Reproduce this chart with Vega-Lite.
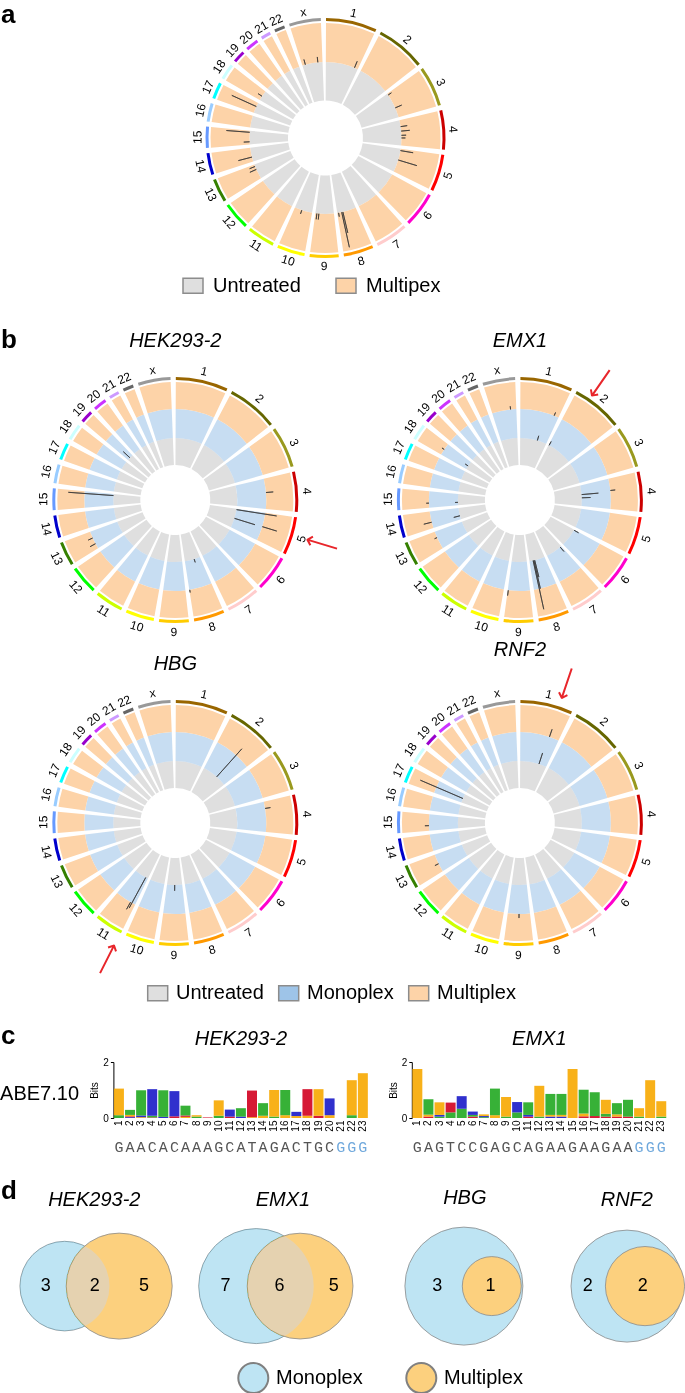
{
"$schema":"https://vega.github.io/schema/vega-lite/v6.json",
"padding":{"left":0,"top":2,"right":0,"bottom":0},
"background":"white",
"config":{
 "font":"Liberation Sans",
 "view":{"stroke":null},
 "title":{"fontSize":20,"fontStyle":"italic","fontWeight":"normal","frame":"group","baseline":"alphabetic","color":"#000000"},
 "axis":{"labelColor":"#000","titleColor":"#000","domainColor":"#000","tickColor":"#000","grid":false},
 "legend":{"labelFontSize":20,"labelColor":"#000","padding":0}
},
"datasets":{
 "chroms":[
  {"chr":"1","start":12.5,"end":261.5,"mid":137},
  {"chr":"2","start":286.5,"end":529.5,"mid":408},
  {"chr":"3","start":554.5,"end":752.5,"mid":653.5},
  {"chr":"4","start":777.5,"end":968.5,"mid":873},
  {"chr":"5","start":993.5,"end":1174.5,"mid":1084},
  {"chr":"6","start":1199.5,"end":1370.5,"mid":1285},
  {"chr":"7","start":1395.5,"end":1554.5,"mid":1475},
  {"chr":"8","start":1579.5,"end":1725.5,"mid":1652.5},
  {"chr":"9","start":1750.5,"end":1891.5,"mid":1821},
  {"chr":"10","start":1916.5,"end":2052.5,"mid":1984.5},
  {"chr":"11","start":2077.5,"end":2212.5,"mid":2145},
  {"chr":"12","start":2237.5,"end":2371.5,"mid":2304.5},
  {"chr":"13","start":2396.5,"end":2511.5,"mid":2454},
  {"chr":"14","start":2536.5,"end":2643.5,"mid":2590},
  {"chr":"15","start":2668.5,"end":2771.5,"mid":2720},
  {"chr":"16","start":2796.5,"end":2886.5,"mid":2841.5},
  {"chr":"17","start":2911.5,"end":2992.5,"mid":2952},
  {"chr":"18","start":3017.5,"end":3095.5,"mid":3056.5},
  {"chr":"19","start":3120.5,"end":3179.5,"mid":3150},
  {"chr":"20","start":3204.5,"end":3267.5,"mid":3236},
  {"chr":"21","start":3292.5,"end":3340.5,"mid":3316.5},
  {"chr":"22","start":3365.5,"end":3416.5,"mid":3391},
  {"chr":"x","start":3441.5,"end":3596.5,"mid":3519}
 ],
 "hits":[
  {"plot":"a","track":"Multiplex","gpos":3465,"v":0.14},
  {"plot":"a","track":"Multiplex","gpos":3561,"v":0.14},
  {"plot":"a","track":"Multiplex","gpos":235,"v":0.18},
  {"plot":"a","track":"Multiplex","gpos":567,"v":0.1},
  {"plot":"a","track":"Multiplex","gpos":678,"v":0.18},
  {"plot":"a","track":"Multiplex","gpos":826,"v":0.17},
  {"plot":"a","track":"Multiplex","gpos":860,"v":0.22},
  {"plot":"a","track":"Multiplex","gpos":892,"v":0.12},
  {"plot":"a","track":"Multiplex","gpos":912,"v":0.1},
  {"plot":"a","track":"Multiplex","gpos":1008,"v":0.33},
  {"plot":"a","track":"Multiplex","gpos":1081,"v":0.5},
  {"plot":"a","track":"Multiplex","gpos":1691,"v":0.92},
  {"plot":"a","track":"Multiplex","gpos":1682,"v":0.55},
  {"plot":"a","track":"Multiplex","gpos":1715,"v":0.1},
  {"plot":"a","track":"Multiplex","gpos":1997,"v":0.1},
  {"plot":"a","track":"Multiplex","gpos":1880,"v":0.15},
  {"plot":"a","track":"Multiplex","gpos":1865,"v":0.15},
  {"plot":"a","track":"Multiplex","gpos":2472,"v":0.18},
  {"plot":"a","track":"Multiplex","gpos":2496,"v":0.15},
  {"plot":"a","track":"Multiplex","gpos":2571,"v":0.36},
  {"plot":"a","track":"Multiplex","gpos":2760,"v":0.6},
  {"plot":"a","track":"Multiplex","gpos":2688,"v":0.15},
  {"plot":"a","track":"Multiplex","gpos":2962,"v":0.69},
  {"plot":"a","track":"Multiplex","gpos":3051,"v":0.12},
  {"plot":"HEK293-2","track":"Monoplex","gpos":2758,"v":1.56},
  {"plot":"HEK293-2","track":"Monoplex","gpos":3147,"v":0.31},
  {"plot":"HEK293-2","track":"Monoplex","gpos":1002,"v":1.4},
  {"plot":"HEK293-2","track":"Monoplex","gpos":1085,"v":0.74},
  {"plot":"HEK293-2","track":"Monoplex","gpos":1637,"v":0.12},
  {"plot":"HEK293-2","track":"Multiplex","gpos":1083,"v":0.56},
  {"plot":"HEK293-2","track":"Multiplex","gpos":865,"v":0.27},
  {"plot":"HEK293-2","track":"Multiplex","gpos":1723,"v":0.1},
  {"plot":"HEK293-2","track":"Multiplex","gpos":2469,"v":0.18},
  {"plot":"HEK293-2","track":"Multiplex","gpos":2429,"v":0.23},
  {"plot":"EMX1","track":"Monoplex","gpos":1691,"v":1.72},
  {"plot":"EMX1","track":"Monoplex","gpos":1684,"v":1.0},
  {"plot":"EMX1","track":"Monoplex","gpos":1676,"v":0.6},
  {"plot":"EMX1","track":"Monoplex","gpos":862,"v":0.58},
  {"plot":"EMX1","track":"Monoplex","gpos":892,"v":0.3},
  {"plot":"EMX1","track":"Monoplex","gpos":174,"v":0.17},
  {"plot":"EMX1","track":"Monoplex","gpos":292,"v":0.15},
  {"plot":"EMX1","track":"Monoplex","gpos":3051,"v":0.12},
  {"plot":"EMX1","track":"Monoplex","gpos":2695,"v":0.1},
  {"plot":"EMX1","track":"Monoplex","gpos":2569,"v":0.22},
  {"plot":"EMX1","track":"Monoplex","gpos":1205,"v":0.18},
  {"plot":"EMX1","track":"Monoplex","gpos":1408,"v":0.2},
  {"plot":"EMX1","track":"Multiplex","gpos":1888,"v":0.2},
  {"plot":"EMX1","track":"Multiplex","gpos":852,"v":0.18},
  {"plot":"EMX1","track":"Multiplex","gpos":232,"v":0.13},
  {"plot":"EMX1","track":"Multiplex","gpos":3560,"v":0.12},
  {"plot":"EMX1","track":"Multiplex","gpos":3055,"v":0.1},
  {"plot":"EMX1","track":"Multiplex","gpos":2697,"v":0.1},
  {"plot":"EMX1","track":"Multiplex","gpos":2575,"v":0.3},
  {"plot":"EMX1","track":"Multiplex","gpos":2472,"v":0.1},
  {"plot":"HBG","track":"Monoplex","gpos":430,"v":1.3},
  {"plot":"HBG","track":"Monoplex","gpos":2100,"v":1.2},
  {"plot":"HBG","track":"Monoplex","gpos":1820,"v":0.2},
  {"plot":"HBG","track":"Multiplex","gpos":820,"v":0.2},
  {"plot":"HBG","track":"Multiplex","gpos":2110,"v":0.3},
  {"plot":"RNF2","track":"Monoplex","gpos":2950,"v":1.6},
  {"plot":"RNF2","track":"Monoplex","gpos":190,"v":0.4},
  {"plot":"RNF2","track":"Multiplex","gpos":200,"v":0.3},
  {"plot":"RNF2","track":"Multiplex","gpos":2700,"v":0.15},
  {"plot":"RNF2","track":"Multiplex","gpos":2450,"v":0.15},
  {"plot":"RNF2","track":"Multiplex","gpos":1820,"v":0.15}
 ],
 "arrows":[
  {"plot":"HEK293-2","chr":"5","gpos":1082},
  {"plot":"EMX1","chr":"2","gpos":359},
  {"plot":"HBG","chr":"11","gpos":2083},
  {"plot":"RNF2","chr":"1","gpos":198}
 ],
 "logo":[
  {"target":"HEK293-2","pos":1,"base":"A","bits":0.1},{"target":"HEK293-2","pos":1,"base":"G","bits":0.95},
  {"target":"HEK293-2","pos":2,"base":"C","bits":0.03},{"target":"HEK293-2","pos":2,"base":"T","bits":0.03},{"target":"HEK293-2","pos":2,"base":"G","bits":0.05},{"target":"HEK293-2","pos":2,"base":"A","bits":0.18},
  {"target":"HEK293-2","pos":3,"base":"G","bits":0.03},{"target":"HEK293-2","pos":3,"base":"C","bits":0.06},{"target":"HEK293-2","pos":3,"base":"A","bits":0.9},
  {"target":"HEK293-2","pos":4,"base":"T","bits":0.02},{"target":"HEK293-2","pos":4,"base":"A","bits":0.06},{"target":"HEK293-2","pos":4,"base":"C","bits":0.95},
  {"target":"HEK293-2","pos":5,"base":"C","bits":0.04},{"target":"HEK293-2","pos":5,"base":"A","bits":0.95},
  {"target":"HEK293-2","pos":6,"base":"T","bits":0.06},{"target":"HEK293-2","pos":6,"base":"C","bits":0.9},
  {"target":"HEK293-2","pos":7,"base":"G","bits":0.04},{"target":"HEK293-2","pos":7,"base":"T","bits":0.05},{"target":"HEK293-2","pos":7,"base":"A","bits":0.35},
  {"target":"HEK293-2","pos":8,"base":"A","bits":0.05},{"target":"HEK293-2","pos":8,"base":"G","bits":0.05},
  {"target":"HEK293-2","pos":9,"base":"T","bits":0.02},
  {"target":"HEK293-2","pos":10,"base":"A","bits":0.08},{"target":"HEK293-2","pos":10,"base":"G","bits":0.55},
  {"target":"HEK293-2","pos":11,"base":"T","bits":0.05},{"target":"HEK293-2","pos":11,"base":"C","bits":0.25},
  {"target":"HEK293-2","pos":12,"base":"C","bits":0.05},{"target":"HEK293-2","pos":12,"base":"A","bits":0.3},
  {"target":"HEK293-2","pos":13,"base":"G","bits":0.03},{"target":"HEK293-2","pos":13,"base":"T","bits":0.95},
  {"target":"HEK293-2","pos":14,"base":"G","bits":0.08},{"target":"HEK293-2","pos":14,"base":"A","bits":0.45},
  {"target":"HEK293-2","pos":15,"base":"A","bits":0.05},{"target":"HEK293-2","pos":15,"base":"G","bits":0.95},
  {"target":"HEK293-2","pos":16,"base":"G","bits":0.1},{"target":"HEK293-2","pos":16,"base":"A","bits":0.9},
  {"target":"HEK293-2","pos":17,"base":"G","bits":0.07},{"target":"HEK293-2","pos":17,"base":"C","bits":0.15},
  {"target":"HEK293-2","pos":18,"base":"G","bits":0.08},{"target":"HEK293-2","pos":18,"base":"T","bits":0.95},
  {"target":"HEK293-2","pos":19,"base":"T","bits":0.08},{"target":"HEK293-2","pos":19,"base":"G","bits":0.95},
  {"target":"HEK293-2","pos":20,"base":"G","bits":0.1},{"target":"HEK293-2","pos":20,"base":"C","bits":0.6},
  {"target":"HEK293-2","pos":22,"base":"A","bits":0.1},{"target":"HEK293-2","pos":22,"base":"G","bits":1.25},
  {"target":"HEK293-2","pos":23,"base":"G","bits":1.6},
  {"target":"EMX1","pos":1,"base":"G","bits":1.75},
  {"target":"EMX1","pos":2,"base":"T","bits":0.05},{"target":"EMX1","pos":2,"base":"G","bits":0.07},{"target":"EMX1","pos":2,"base":"A","bits":0.55},
  {"target":"EMX1","pos":3,"base":"A","bits":0.05},{"target":"EMX1","pos":3,"base":"C","bits":0.06},{"target":"EMX1","pos":3,"base":"G","bits":0.45},
  {"target":"EMX1","pos":4,"base":"A","bits":0.2},{"target":"EMX1","pos":4,"base":"T","bits":0.35},
  {"target":"EMX1","pos":5,"base":"A","bits":0.33},{"target":"EMX1","pos":5,"base":"C","bits":0.45},
  {"target":"EMX1","pos":6,"base":"T","bits":0.05},{"target":"EMX1","pos":6,"base":"A","bits":0.06},{"target":"EMX1","pos":6,"base":"C","bits":0.12},
  {"target":"EMX1","pos":7,"base":"A","bits":0.03},{"target":"EMX1","pos":7,"base":"C","bits":0.04},{"target":"EMX1","pos":7,"base":"G","bits":0.06},
  {"target":"EMX1","pos":8,"base":"G","bits":0.1},{"target":"EMX1","pos":8,"base":"A","bits":0.95},
  {"target":"EMX1","pos":9,"base":"A","bits":0.05},{"target":"EMX1","pos":9,"base":"G","bits":0.7},
  {"target":"EMX1","pos":10,"base":"A","bits":0.2},{"target":"EMX1","pos":10,"base":"C","bits":0.37},
  {"target":"EMX1","pos":11,"base":"T","bits":0.05},{"target":"EMX1","pos":11,"base":"C","bits":0.06},{"target":"EMX1","pos":11,"base":"A","bits":0.45},
  {"target":"EMX1","pos":12,"base":"A","bits":0.05},{"target":"EMX1","pos":12,"base":"G","bits":1.1},
  {"target":"EMX1","pos":13,"base":"C","bits":0.05},{"target":"EMX1","pos":13,"base":"G","bits":0.06},{"target":"EMX1","pos":13,"base":"A","bits":0.75},
  {"target":"EMX1","pos":14,"base":"C","bits":0.05},{"target":"EMX1","pos":14,"base":"G","bits":0.06},{"target":"EMX1","pos":14,"base":"A","bits":0.75},
  {"target":"EMX1","pos":15,"base":"G","bits":1.75},
  {"target":"EMX1","pos":16,"base":"T","bits":0.06},{"target":"EMX1","pos":16,"base":"G","bits":0.1},{"target":"EMX1","pos":16,"base":"A","bits":0.85},
  {"target":"EMX1","pos":17,"base":"T","bits":0.07},{"target":"EMX1","pos":17,"base":"A","bits":0.85},
  {"target":"EMX1","pos":18,"base":"T","bits":0.05},{"target":"EMX1","pos":18,"base":"A","bits":0.1},{"target":"EMX1","pos":18,"base":"G","bits":0.5},
  {"target":"EMX1","pos":19,"base":"T","bits":0.05},{"target":"EMX1","pos":19,"base":"G","bits":0.08},{"target":"EMX1","pos":19,"base":"A","bits":0.4},
  {"target":"EMX1","pos":20,"base":"T","bits":0.05},{"target":"EMX1","pos":20,"base":"A","bits":0.6},
  {"target":"EMX1","pos":21,"base":"A","bits":0.05},{"target":"EMX1","pos":21,"base":"G","bits":0.3},
  {"target":"EMX1","pos":22,"base":"G","bits":1.35},
  {"target":"EMX1","pos":23,"base":"A","bits":0.05},{"target":"EMX1","pos":23,"base":"G","bits":0.55}
 ],
 "seq":[
  {"target":"HEK293-2","pos":1,"base":"G","region":"protospacer"},{"target":"HEK293-2","pos":2,"base":"A","region":"protospacer"},{"target":"HEK293-2","pos":3,"base":"A","region":"protospacer"},{"target":"HEK293-2","pos":4,"base":"C","region":"protospacer"},{"target":"HEK293-2","pos":5,"base":"A","region":"protospacer"},{"target":"HEK293-2","pos":6,"base":"C","region":"protospacer"},{"target":"HEK293-2","pos":7,"base":"A","region":"protospacer"},{"target":"HEK293-2","pos":8,"base":"A","region":"protospacer"},{"target":"HEK293-2","pos":9,"base":"A","region":"protospacer"},{"target":"HEK293-2","pos":10,"base":"G","region":"protospacer"},{"target":"HEK293-2","pos":11,"base":"C","region":"protospacer"},{"target":"HEK293-2","pos":12,"base":"A","region":"protospacer"},{"target":"HEK293-2","pos":13,"base":"T","region":"protospacer"},{"target":"HEK293-2","pos":14,"base":"A","region":"protospacer"},{"target":"HEK293-2","pos":15,"base":"G","region":"protospacer"},{"target":"HEK293-2","pos":16,"base":"A","region":"protospacer"},{"target":"HEK293-2","pos":17,"base":"C","region":"protospacer"},{"target":"HEK293-2","pos":18,"base":"T","region":"protospacer"},{"target":"HEK293-2","pos":19,"base":"G","region":"protospacer"},{"target":"HEK293-2","pos":20,"base":"C","region":"protospacer"},{"target":"HEK293-2","pos":21,"base":"G","region":"PAM"},{"target":"HEK293-2","pos":22,"base":"G","region":"PAM"},{"target":"HEK293-2","pos":23,"base":"G","region":"PAM"},
  {"target":"EMX1","pos":1,"base":"G","region":"protospacer"},{"target":"EMX1","pos":2,"base":"A","region":"protospacer"},{"target":"EMX1","pos":3,"base":"G","region":"protospacer"},{"target":"EMX1","pos":4,"base":"T","region":"protospacer"},{"target":"EMX1","pos":5,"base":"C","region":"protospacer"},{"target":"EMX1","pos":6,"base":"C","region":"protospacer"},{"target":"EMX1","pos":7,"base":"G","region":"protospacer"},{"target":"EMX1","pos":8,"base":"A","region":"protospacer"},{"target":"EMX1","pos":9,"base":"G","region":"protospacer"},{"target":"EMX1","pos":10,"base":"C","region":"protospacer"},{"target":"EMX1","pos":11,"base":"A","region":"protospacer"},{"target":"EMX1","pos":12,"base":"G","region":"protospacer"},{"target":"EMX1","pos":13,"base":"A","region":"protospacer"},{"target":"EMX1","pos":14,"base":"A","region":"protospacer"},{"target":"EMX1","pos":15,"base":"G","region":"protospacer"},{"target":"EMX1","pos":16,"base":"A","region":"protospacer"},{"target":"EMX1","pos":17,"base":"A","region":"protospacer"},{"target":"EMX1","pos":18,"base":"G","region":"protospacer"},{"target":"EMX1","pos":19,"base":"A","region":"protospacer"},{"target":"EMX1","pos":20,"base":"A","region":"protospacer"},{"target":"EMX1","pos":21,"base":"G","region":"PAM"},{"target":"EMX1","pos":22,"base":"G","region":"PAM"},{"target":"EMX1","pos":23,"base":"G","region":"PAM"}
 ],
 "venn":[
  {"target":"HEK293-2","set":"Monoplex","n":5},{"target":"HEK293-2","set":"Multiplex","n":7},
  {"target":"EMX1","set":"Monoplex","n":13},{"target":"EMX1","set":"Multiplex","n":11},
  {"target":"HBG","set":"Monoplex","n":4},{"target":"HBG","set":"Multiplex","n":1},
  {"target":"RNF2","set":"Monoplex","n":4},{"target":"RNF2","set":"Multiplex","n":2}
 ],
 "vennlab":[
  {"target":"HEK293-2","region":"mono","n":3},{"target":"HEK293-2","region":"both","n":2},{"target":"HEK293-2","region":"multi","n":5},
  {"target":"EMX1","region":"mono","n":7},{"target":"EMX1","region":"both","n":6},{"target":"EMX1","region":"multi","n":5},
  {"target":"HBG","region":"mono","n":3},{"target":"HBG","region":"both","n":1},
  {"target":"RNF2","region":"mono","n":2},{"target":"RNF2","region":"both","n":2}
 ]
},
"spacing":8,
"resolve":{"scale":{"color":"independent","fill":"independent","theta":"independent","radius":"independent","angle":"independent","size":"independent"},"legend":{"color":"independent"}},
"vconcat":[
 {
  "width":651,"height":266,
  "title":{"text":"a","anchor":"start","fontSize":26,"fontWeight":"bold","fontStyle":"normal","offset":-23,"dx":1},
  "layer":[
   {"data":{"name":"chroms"},"mark":{"type":"arc","radius":76,"radius2":37.5},
    "encoding":{"theta":{"field":"start","type":"quantitative","stack":null,"scale":{"domain":[0,3609],"range":[-0.01745,6.26573]}},"theta2":{"field":"end"},
     "color":{"datum":"Untreated","type":"nominal","scale":{"domain":["Untreated","Multipex"],"range":["#DFDFDF","#FDD3A8"]},
      "legend":{"orient":"none","legendX":161,"legendY":248.5,"direction":"horizontal","title":null,"symbolType":"M-1,-0.75H1V0.75H-1Z","symbolSize":400,"labelFontSize":20,"labelOffset":9,"columnPadding":32,"padding":21,"symbolStrokeColor":"#8c8c8c","symbolStrokeWidth":1.5,"symbolOpacity":1}}}},
   {"data":{"name":"chroms"},"mark":{"type":"arc","radius":115,"radius2":76},
    "encoding":{"theta":{"field":"start","type":"quantitative","stack":null,"scale":{"domain":[0,3609],"range":[-0.01745,6.26573]}},"theta2":{"field":"end"},
     "color":{"datum":"Multipex","type":"nominal"}}},
   {"data":{"name":"chroms"},"mark":{"type":"arc","radius":120,"radius2":117},
    "encoding":{"theta":{"field":"start","type":"quantitative","stack":null,"scale":{"domain":[0,3609],"range":[-0.01745,6.26573]}},"theta2":{"field":"end"},
     "fill":{"field":"chr","type":"nominal","legend":null,"scale":{"domain":["1","2","3","4","5","6","7","8","9","10","11","12","13","14","15","16","17","18","19","20","21","22","x"],"range":["#996600","#666600","#99991E","#CC0000","#FF0000","#FF00CC","#FFCCCC","#FF9900","#FFCC00","#FFFF00","#CCFF00","#00FF00","#358000","#0000CC","#6699FF","#99CCFF","#00FFFF","#CCFFFF","#9900CC","#CC33FF","#CC99FF","#666666","#999999"]}}}},
   {"data":{"name":"chroms"},"transform":[{"filter":"datum.mid < 912 || datum.mid > 2717"}],
    "mark":{"type":"text","radius":128,"fontSize":12},
    "encoding":{"theta":{"field":"mid","type":"quantitative","stack":null,"scale":{"domain":[0,3609],"range":[-0.01745,6.26573]}},"text":{"field":"chr"},
     "angle":{"field":"mid","type":"quantitative","scale":{"domain":[0,3609],"range":[-1,359]}}}},
   {"data":{"name":"chroms"},"transform":[{"filter":"datum.mid >= 912 && datum.mid <= 2717"}],
    "mark":{"type":"text","radius":128,"fontSize":12},
    "encoding":{"theta":{"field":"mid","type":"quantitative","stack":null,"scale":{"domain":[0,3609],"range":[-0.01745,6.26573]}},"text":{"field":"chr"},
     "angle":{"field":"mid","type":"quantitative","scale":{"domain":[0,3609],"range":[-181,179]}}}},
   {"data":{"name":"hits"},"transform":[{"filter":"datum.plot == 'a' && datum.track == 'Multiplex'"}],
    "mark":{"type":"arc","filled":false,"stroke":"#333333","strokeWidth":0.7},
    "encoding":{"theta":{"field":"gpos","type":"quantitative","stack":null,"scale":{"domain":[0,3609],"range":[-0.01745,6.26573]}},"theta2":{"field":"gpos"},
     "radius":{"field":"v","type":"quantitative","scale":{"type":"linear","domain":[0,1],"range":[76,115],"zero":false,"nice":false}},"radius2":{"datum":0}}}
  ],
  "resolve":{"scale":{"radius":"independent","angle":"independent"}}
 },
 {
  "title":{"text":"b","anchor":"start","fontSize":26,"fontWeight":"bold","fontStyle":"normal","offset":-21.5,"dx":1},
  "spacing":0,
  "vconcat":[
   {"bounds":"flush","spacing":8.9,"hconcat":[
    {"width":350.6,"height":276,"title":{"text":"HEK293-2","offset":11},
     "layer":[
      {"data":{"name":"chroms"},"mark":{"type":"arc","radius":62,"radius2":35},
       "encoding":{"theta":{"field":"start","type":"quantitative","stack":null,"scale":{"domain":[0,3609],"range":[-0.01745,6.26573]}},"theta2":{"field":"end"},
        "color":{"datum":"Untreated","type":"nominal","scale":{"domain":["Untreated","Monoplex","Multiplex"],"range":["#DFDFDF","#9EC4E8","#FDD3A8"]},
         "legend":{"orient":"none","legendX":136.7,"legendY":610,"direction":"horizontal","title":null,"symbolType":"M-1,-0.75H1V0.75H-1Z","symbolSize":400,"labelFontSize":20,"labelOffset":7.3,"columnPadding":11,"padding":10,"symbolStrokeColor":"#8c8c8c","symbolStrokeWidth":1.5,"symbolOpacity":1,
          "encode":{"symbols":{"update":{"opacity":{"value":1},"fillOpacity":{"value":1}}}}}}}},
      {"data":{"name":"chroms"},"mark":{"type":"arc","radius":91,"radius2":62,"opacity":0.58},
       "encoding":{"theta":{"field":"start","type":"quantitative","stack":null,"scale":{"domain":[0,3609],"range":[-0.01745,6.26573]}},"theta2":{"field":"end"},"color":{"datum":"Monoplex","type":"nominal"}}},
      {"data":{"name":"chroms"},"mark":{"type":"arc","radius":118,"radius2":91},
       "encoding":{"theta":{"field":"start","type":"quantitative","stack":null,"scale":{"domain":[0,3609],"range":[-0.01745,6.26573]}},"theta2":{"field":"end"},"color":{"datum":"Multiplex","type":"nominal"}}},
      {"data":{"name":"chroms"},"mark":{"type":"arc","radius":123,"radius2":120},
       "encoding":{"theta":{"field":"start","type":"quantitative","stack":null,"scale":{"domain":[0,3609],"range":[-0.01745,6.26573]}},"theta2":{"field":"end"},
        "fill":{"field":"chr","type":"nominal","legend":null,"scale":{"domain":["1","2","3","4","5","6","7","8","9","10","11","12","13","14","15","16","17","18","19","20","21","22","x"],"range":["#996600","#666600","#99991E","#CC0000","#FF0000","#FF00CC","#FFCCCC","#FF9900","#FFCC00","#FFFF00","#CCFF00","#00FF00","#358000","#0000CC","#6699FF","#99CCFF","#00FFFF","#CCFFFF","#9900CC","#CC33FF","#CC99FF","#666666","#999999"]}}}},
      {"data":{"name":"chroms"},"transform":[{"filter":"datum.mid < 912 || datum.mid > 2717"}],"mark":{"type":"text","radius":132,"fontSize":12},
       "encoding":{"theta":{"field":"mid","type":"quantitative","stack":null,"scale":{"domain":[0,3609],"range":[-0.01745,6.26573]}},"text":{"field":"chr"},"angle":{"field":"mid","type":"quantitative","scale":{"domain":[0,3609],"range":[-1,359]}}}},
      {"data":{"name":"chroms"},"transform":[{"filter":"datum.mid >= 912 && datum.mid <= 2717"}],"mark":{"type":"text","radius":132,"fontSize":12},
       "encoding":{"theta":{"field":"mid","type":"quantitative","stack":null,"scale":{"domain":[0,3609],"range":[-0.01745,6.26573]}},"text":{"field":"chr"},"angle":{"field":"mid","type":"quantitative","scale":{"domain":[0,3609],"range":[-181,179]}}}},
      {"data":{"name":"hits"},"transform":[{"filter":"datum.plot == 'HEK293-2' && datum.track == 'Monoplex'"}],"mark":{"type":"arc","filled":false,"stroke":"#333333","strokeWidth":0.7},
       "encoding":{"theta":{"field":"gpos","type":"quantitative","stack":null,"scale":{"domain":[0,3609],"range":[-0.01745,6.26573]}},"theta2":{"field":"gpos"},"radius":{"field":"v","type":"quantitative","scale":{"type":"linear","domain":[0,1],"range":[62,91],"zero":false,"nice":false}},"radius2":{"datum":0}}},
      {"data":{"name":"hits"},"transform":[{"filter":"datum.plot == 'HEK293-2' && datum.track == 'Multiplex'"}],"mark":{"type":"arc","filled":false,"stroke":"#333333","strokeWidth":0.7},
       "encoding":{"theta":{"field":"gpos","type":"quantitative","stack":null,"scale":{"domain":[0,3609],"range":[-0.01745,6.26573]}},"theta2":{"field":"gpos"},"radius":{"field":"v","type":"quantitative","scale":{"type":"linear","domain":[0,1],"range":[91,118],"zero":false,"nice":false}},"radius2":{"datum":0}}},
      {"data":{"name":"arrows"},"transform":[{"filter":"datum.plot == 'HEK293-2'"}],"mark":{"type":"text","radius":153,"font":"DejaVu Sans","fontSize":24,"color":"#E8262B","angle":16.9},
       "encoding":{"theta":{"field":"gpos","type":"quantitative","stack":null,"scale":{"domain":[0,3609],"range":[-0.01745,6.26573]}},"text":{"value":"⟵"}}}
     ],
     "resolve":{"scale":{"radius":"independent","angle":"independent"}}},
    {"width":320,"height":276,"title":{"text":"EMX1","offset":11},
     "layer":[
      {"data":{"name":"chroms"},"mark":{"type":"arc","radius":62,"radius2":35},
       "encoding":{"theta":{"field":"start","type":"quantitative","stack":null,"scale":{"domain":[0,3609],"range":[-0.01745,6.26573]}},"theta2":{"field":"end"},"color":{"datum":"Untreated","type":"nominal"}}},
      {"data":{"name":"chroms"},"mark":{"type":"arc","radius":91,"radius2":62,"opacity":0.58},
       "encoding":{"theta":{"field":"start","type":"quantitative","stack":null,"scale":{"domain":[0,3609],"range":[-0.01745,6.26573]}},"theta2":{"field":"end"},"color":{"datum":"Monoplex","type":"nominal"}}},
      {"data":{"name":"chroms"},"mark":{"type":"arc","radius":118,"radius2":91},
       "encoding":{"theta":{"field":"start","type":"quantitative","stack":null,"scale":{"domain":[0,3609],"range":[-0.01745,6.26573]}},"theta2":{"field":"end"},"color":{"datum":"Multiplex","type":"nominal"}}},
      {"data":{"name":"chroms"},"mark":{"type":"arc","radius":123,"radius2":120},
       "encoding":{"theta":{"field":"start","type":"quantitative","stack":null,"scale":{"domain":[0,3609],"range":[-0.01745,6.26573]}},"theta2":{"field":"end"},"fill":{"field":"chr","type":"nominal","legend":null}}},
      {"data":{"name":"chroms"},"transform":[{"filter":"datum.mid < 912 || datum.mid > 2717"}],"mark":{"type":"text","radius":132,"fontSize":12},
       "encoding":{"theta":{"field":"mid","type":"quantitative","stack":null,"scale":{"domain":[0,3609],"range":[-0.01745,6.26573]}},"text":{"field":"chr"},"angle":{"field":"mid","type":"quantitative","scale":{"domain":[0,3609],"range":[-1,359]}}}},
      {"data":{"name":"chroms"},"transform":[{"filter":"datum.mid >= 912 && datum.mid <= 2717"}],"mark":{"type":"text","radius":132,"fontSize":12},
       "encoding":{"theta":{"field":"mid","type":"quantitative","stack":null,"scale":{"domain":[0,3609],"range":[-0.01745,6.26573]}},"text":{"field":"chr"},"angle":{"field":"mid","type":"quantitative","scale":{"domain":[0,3609],"range":[-181,179]}}}},
      {"data":{"name":"hits"},"transform":[{"filter":"datum.plot == 'EMX1' && datum.track == 'Monoplex'"}],"mark":{"type":"arc","filled":false,"stroke":"#333333","strokeWidth":0.7},
       "encoding":{"theta":{"field":"gpos","type":"quantitative","stack":null,"scale":{"domain":[0,3609],"range":[-0.01745,6.26573]}},"theta2":{"field":"gpos"},"radius":{"field":"v","type":"quantitative","scale":{"type":"linear","domain":[0,1],"range":[62,91],"zero":false,"nice":false}},"radius2":{"datum":0}}},
      {"data":{"name":"hits"},"transform":[{"filter":"datum.plot == 'EMX1' && datum.track == 'Multiplex'"}],"mark":{"type":"arc","filled":false,"stroke":"#333333","strokeWidth":0.7},
       "encoding":{"theta":{"field":"gpos","type":"quantitative","stack":null,"scale":{"domain":[0,3609],"range":[-0.01745,6.26573]}},"theta2":{"field":"gpos"},"radius":{"field":"v","type":"quantitative","scale":{"type":"linear","domain":[0,1],"range":[91,118],"zero":false,"nice":false}},"radius2":{"datum":0}}},
      {"data":{"name":"arrows"},"transform":[{"filter":"datum.plot == 'EMX1'"}],"mark":{"type":"text","radius":142,"font":"DejaVu Sans","fontSize":24,"color":"#E8262B","angle":-55.2},
       "encoding":{"theta":{"field":"gpos","type":"quantitative","stack":null,"scale":{"domain":[0,3609],"range":[-0.01745,6.26573]}},"text":{"value":"⟵"}}}
     ],
     "resolve":{"scale":{"radius":"independent","angle":"independent"}}}
   ]},
   {"bounds":"flush","spacing":8.9,"hconcat":[
    {"width":350.6,"height":290,"title":{"text":"HBG","offset":4},
     "layer":[
      {"data":{"name":"chroms"},"mark":{"type":"arc","radius":62,"radius2":35},
       "encoding":{"theta":{"field":"start","type":"quantitative","stack":null,"scale":{"domain":[0,3609],"range":[-0.01745,6.26573]}},"theta2":{"field":"end"},"color":{"datum":"Untreated","type":"nominal"}}},
      {"data":{"name":"chroms"},"mark":{"type":"arc","radius":91,"radius2":62,"opacity":0.58},
       "encoding":{"theta":{"field":"start","type":"quantitative","stack":null,"scale":{"domain":[0,3609],"range":[-0.01745,6.26573]}},"theta2":{"field":"end"},"color":{"datum":"Monoplex","type":"nominal"}}},
      {"data":{"name":"chroms"},"mark":{"type":"arc","radius":118,"radius2":91},
       "encoding":{"theta":{"field":"start","type":"quantitative","stack":null,"scale":{"domain":[0,3609],"range":[-0.01745,6.26573]}},"theta2":{"field":"end"},"color":{"datum":"Multiplex","type":"nominal"}}},
      {"data":{"name":"chroms"},"mark":{"type":"arc","radius":123,"radius2":120},
       "encoding":{"theta":{"field":"start","type":"quantitative","stack":null,"scale":{"domain":[0,3609],"range":[-0.01745,6.26573]}},"theta2":{"field":"end"},"fill":{"field":"chr","type":"nominal","legend":null}}},
      {"data":{"name":"chroms"},"transform":[{"filter":"datum.mid < 912 || datum.mid > 2717"}],"mark":{"type":"text","radius":132,"fontSize":12},
       "encoding":{"theta":{"field":"mid","type":"quantitative","stack":null,"scale":{"domain":[0,3609],"range":[-0.01745,6.26573]}},"text":{"field":"chr"},"angle":{"field":"mid","type":"quantitative","scale":{"domain":[0,3609],"range":[-1,359]}}}},
      {"data":{"name":"chroms"},"transform":[{"filter":"datum.mid >= 912 && datum.mid <= 2717"}],"mark":{"type":"text","radius":132,"fontSize":12},
       "encoding":{"theta":{"field":"mid","type":"quantitative","stack":null,"scale":{"domain":[0,3609],"range":[-0.01745,6.26573]}},"text":{"field":"chr"},"angle":{"field":"mid","type":"quantitative","scale":{"domain":[0,3609],"range":[-181,179]}}}},
      {"data":{"name":"hits"},"transform":[{"filter":"datum.plot == 'HBG' && datum.track == 'Monoplex'"}],"mark":{"type":"arc","filled":false,"stroke":"#333333","strokeWidth":0.7},
       "encoding":{"theta":{"field":"gpos","type":"quantitative","stack":null,"scale":{"domain":[0,3609],"range":[-0.01745,6.26573]}},"theta2":{"field":"gpos"},"radius":{"field":"v","type":"quantitative","scale":{"type":"linear","domain":[0,1],"range":[62,91],"zero":false,"nice":false}},"radius2":{"datum":0}}},
      {"data":{"name":"hits"},"transform":[{"filter":"datum.plot == 'HBG' && datum.track == 'Multiplex'"}],"mark":{"type":"arc","filled":false,"stroke":"#333333","strokeWidth":0.7},
       "encoding":{"theta":{"field":"gpos","type":"quantitative","stack":null,"scale":{"domain":[0,3609],"range":[-0.01745,6.26573]}},"theta2":{"field":"gpos"},"radius":{"field":"v","type":"quantitative","scale":{"type":"linear","domain":[0,1],"range":[91,118],"zero":false,"nice":false}},"radius2":{"datum":0}}},
      {"data":{"name":"arrows"},"transform":[{"filter":"datum.plot == 'HBG'"}],"mark":{"type":"text","radius":152,"font":"DejaVu Sans","fontSize":24,"color":"#E8262B","angle":116.8},
       "encoding":{"theta":{"field":"gpos","type":"quantitative","stack":null,"scale":{"domain":[0,3609],"range":[-0.01745,6.26573]}},"text":{"value":"⟵"}}}
     ],
     "resolve":{"scale":{"radius":"independent","angle":"independent"}}},
    {"width":320,"height":290,"title":{"text":"RNF2","offset":4},
     "layer":[
      {"data":{"name":"chroms"},"mark":{"type":"arc","radius":62,"radius2":35},
       "encoding":{"theta":{"field":"start","type":"quantitative","stack":null,"scale":{"domain":[0,3609],"range":[-0.01745,6.26573]}},"theta2":{"field":"end"},"color":{"datum":"Untreated","type":"nominal"}}},
      {"data":{"name":"chroms"},"mark":{"type":"arc","radius":91,"radius2":62,"opacity":0.58},
       "encoding":{"theta":{"field":"start","type":"quantitative","stack":null,"scale":{"domain":[0,3609],"range":[-0.01745,6.26573]}},"theta2":{"field":"end"},"color":{"datum":"Monoplex","type":"nominal"}}},
      {"data":{"name":"chroms"},"mark":{"type":"arc","radius":118,"radius2":91},
       "encoding":{"theta":{"field":"start","type":"quantitative","stack":null,"scale":{"domain":[0,3609],"range":[-0.01745,6.26573]}},"theta2":{"field":"end"},"color":{"datum":"Multiplex","type":"nominal"}}},
      {"data":{"name":"chroms"},"mark":{"type":"arc","radius":123,"radius2":120},
       "encoding":{"theta":{"field":"start","type":"quantitative","stack":null,"scale":{"domain":[0,3609],"range":[-0.01745,6.26573]}},"theta2":{"field":"end"},"fill":{"field":"chr","type":"nominal","legend":null}}},
      {"data":{"name":"chroms"},"transform":[{"filter":"datum.mid < 912 || datum.mid > 2717"}],"mark":{"type":"text","radius":132,"fontSize":12},
       "encoding":{"theta":{"field":"mid","type":"quantitative","stack":null,"scale":{"domain":[0,3609],"range":[-0.01745,6.26573]}},"text":{"field":"chr"},"angle":{"field":"mid","type":"quantitative","scale":{"domain":[0,3609],"range":[-1,359]}}}},
      {"data":{"name":"chroms"},"transform":[{"filter":"datum.mid >= 912 && datum.mid <= 2717"}],"mark":{"type":"text","radius":132,"fontSize":12},
       "encoding":{"theta":{"field":"mid","type":"quantitative","stack":null,"scale":{"domain":[0,3609],"range":[-0.01745,6.26573]}},"text":{"field":"chr"},"angle":{"field":"mid","type":"quantitative","scale":{"domain":[0,3609],"range":[-181,179]}}}},
      {"data":{"name":"hits"},"transform":[{"filter":"datum.plot == 'RNF2' && datum.track == 'Monoplex'"}],"mark":{"type":"arc","filled":false,"stroke":"#333333","strokeWidth":0.7},
       "encoding":{"theta":{"field":"gpos","type":"quantitative","stack":null,"scale":{"domain":[0,3609],"range":[-0.01745,6.26573]}},"theta2":{"field":"gpos"},"radius":{"field":"v","type":"quantitative","scale":{"type":"linear","domain":[0,1],"range":[62,91],"zero":false,"nice":false}},"radius2":{"datum":0}}},
      {"data":{"name":"hits"},"transform":[{"filter":"datum.plot == 'RNF2' && datum.track == 'Multiplex'"}],"mark":{"type":"arc","filled":false,"stroke":"#333333","strokeWidth":0.7},
       "encoding":{"theta":{"field":"gpos","type":"quantitative","stack":null,"scale":{"domain":[0,3609],"range":[-0.01745,6.26573]}},"theta2":{"field":"gpos"},"radius":{"field":"v","type":"quantitative","scale":{"type":"linear","domain":[0,1],"range":[91,118],"zero":false,"nice":false}},"radius2":{"datum":0}}},
      {"data":{"name":"arrows"},"transform":[{"filter":"datum.plot == 'RNF2'"}],"mark":{"type":"text","radius":147,"font":"DejaVu Sans","fontSize":24,"color":"#E8262B","angle":-71.25},
       "encoding":{"theta":{"field":"gpos","type":"quantitative","stack":null,"scale":{"domain":[0,3609],"range":[-0.01745,6.26573]}},"text":{"value":"⟵"}}}
     ],
     "resolve":{"scale":{"radius":"independent","angle":"independent"}}}
   ]}
  ]
 },
 {
  "title":{"text":"c","anchor":"start","fontSize":26,"fontWeight":"bold","fontStyle":"normal","offset":-19.5,"dx":1},
  "spacing":6.9,
  "vconcat":[
   {"bounds":"flush","spacing":43.4,"hconcat":[
    {"width":69.9,"height":56,"data":{"values":[{"label":"ABE7.10"}]},"mark":{"type":"text","fontSize":20,"dx":4.6,"dy":4.3},"encoding":{"text":{"field":"label"}}},
    {"width":255,"height":56,"title":{"text":"HEK293-2","offset":8},
     "data":{"name":"logo"},"transform":[{"filter":"datum.target == 'HEK293-2'"}],
     "mark":{"type":"bar","opacity":0.9},
     "encoding":{
      "x":{"field":"pos","type":"ordinal","scale":{"domain":[1,2,3,4,5,6,7,8,9,10,11,12,13,14,15,16,17,18,19,20,21,22,23],"paddingInner":0.1,"paddingOuter":0.05},"axis":{"title":null,"labelAngle":-90,"labelFontSize":10,"ticks":false,"domain":false,"labelPadding":2}},
      "y":{"field":"bits","type":"quantitative","stack":"zero","scale":{"domain":[0,2],"nice":false},"axis":{"title":"Bits","values":[0,1,2],"format":"d","labelFontSize":10,"titleFontSize":10,"titleFontWeight":"normal","tickSize":3,"labelPadding":2,"titlePadding":3}},
      "color":{"field":"base","type":"nominal","scale":{"domain":["A","C","G","T"],"range":["#21A821","#1A1AC8","#F7A900","#D2001F"]},"legend":null},
      "order":{"field":"bits","type":"quantitative","sort":"ascending"}}},
    {"width":255,"height":56,"title":{"text":"EMX1","offset":8},
     "data":{"name":"logo"},"transform":[{"filter":"datum.target == 'EMX1'"}],
     "mark":{"type":"bar","opacity":0.9},
     "encoding":{
      "x":{"field":"pos","type":"ordinal","scale":{"domain":[1,2,3,4,5,6,7,8,9,10,11,12,13,14,15,16,17,18,19,20,21,22,23],"paddingInner":0.1,"paddingOuter":0.05},"axis":{"title":null,"labelAngle":-90,"labelFontSize":10,"ticks":false,"domain":false,"labelPadding":2}},
      "y":{"field":"bits","type":"quantitative","stack":"zero","scale":{"domain":[0,2],"nice":false},"axis":{"title":"Bits","values":[0,1,2],"format":"d","labelFontSize":10,"titleFontSize":10,"titleFontWeight":"normal","tickSize":3,"labelPadding":2,"titlePadding":3}},
      "color":{"field":"base","type":"nominal","scale":{"domain":["A","C","G","T"],"range":["#21A821","#1A1AC8","#F7A900","#D2001F"]},"legend":null},
      "order":{"field":"bits","type":"quantitative","sort":"ascending"}}}
   ]},
   {"bounds":"flush","spacing":43.4,"hconcat":[
    {"width":69.9,"height":29.3,"data":{"values":[{"label":""}]},"mark":{"type":"text"},"encoding":{"text":{"field":"label"}}},
    {"width":255,"height":29.3,"data":{"name":"seq"},"transform":[{"filter":"datum.target == 'HEK293-2'"}],
     "mark":{"type":"text","font":"Liberation Mono","fontSize":15,"dy":-7.05},
     "encoding":{
      "x":{"field":"pos","type":"ordinal","scale":{"domain":[1,2,3,4,5,6,7,8,9,10,11,12,13,14,15,16,17,18,19,20,21,22,23],"paddingInner":0.1,"paddingOuter":0.05},"axis":null},
      "text":{"field":"base"},
      "fill":{"field":"region","type":"nominal","scale":{"domain":["protospacer","PAM"],"range":["#555555","#6FA8DC"]},"legend":null}}},
    {"width":255,"height":29.3,"data":{"name":"seq"},"transform":[{"filter":"datum.target == 'EMX1'"}],
     "mark":{"type":"text","font":"Liberation Mono","fontSize":15,"dy":-7.05},
     "encoding":{
      "x":{"field":"pos","type":"ordinal","scale":{"domain":[1,2,3,4,5,6,7,8,9,10,11,12,13,14,15,16,17,18,19,20,21,22,23],"paddingInner":0.1,"paddingOuter":0.05},"axis":null},
      "text":{"field":"base"},
      "fill":{"field":"region","type":"nominal","scale":{"domain":["protospacer","PAM"],"range":["#555555","#6FA8DC"]},"legend":null}}}
   ]}
  ]
 },
 {
  "title":{"text":"d","anchor":"start","fontSize":26,"fontWeight":"bold","fontStyle":"normal","offset":-15.5,"dx":1},
  "bounds":"flush","spacing":0,
  "resolve":{"scale":{"size":"independent","x":"independent"}},
  "hconcat":[
   {"width":188.6,"height":118.2,"title":{"text":"HEK293-2","offset":17.4},
    "layer":[
     {"data":{"name":"venn"},"transform":[{"filter":"datum.target == 'HEK293-2'"}],
      "mark":{"type":"point","filled":true,"opacity":1,"stroke":"#8a8a8a","strokeWidth":0.8},
      "encoding":{"x":{"field":"set","type":"nominal","scale":{"type":"point","domain":["Monoplex","Multiplex"],"range":[64.7,119.2],"padding":0},"axis":null},
       "size":{"field":"n","type":"quantitative","scale":{"type":"linear","domain":[0,7],"range":[0,11236]},"legend":null},
       "color":{"field":"set","type":"nominal","scale":{"domain":["Monoplex","Multiplex"],"range":["#BEE4F3","#FCD07E"]},
        "legend":{"orient":"none","legendX":237.3,"legendY":135.1,"direction":"horizontal","title":null,"symbolType":"circle","symbolSize":900,"labelFontSize":20,"labelOffset":6.7,"columnPadding":39,"padding":0,"symbolStrokeColor":"#808080","symbolStrokeWidth":2,"symbolOpacity":1}}}},
     {"data":{"name":"venn"},"transform":[{"filter":"datum.target == 'HEK293-2' && datum.set == 'Monoplex'"}],
      "mark":{"type":"point","filled":true,"opacity":1,"strokeWidth":0,"blend":"saturation"},
      "encoding":{"x":{"field":"set","type":"nominal","scale":{"type":"point","domain":["Monoplex","Multiplex"],"range":[64.7,119.2],"padding":0},"axis":null},
       "size":{"field":"n","type":"quantitative","scale":{"type":"linear","domain":[0,7],"range":[0,11236]},"legend":null},
       "color":{"field":"set","type":"nominal"}}},
     {"data":{"name":"vennlab"},"transform":[{"filter":"datum.target == 'HEK293-2'"}],
      "mark":{"type":"text","fontSize":18},
      "encoding":{"x":{"field":"region","type":"nominal","scale":{"type":"point","domain":["mono","both","multi"],"range":[45.7,144],"padding":0},"axis":null},"text":{"field":"n"}}}
    ],
    "resolve":{"scale":{"x":"independent"}}},
   {"width":187.8,"height":118.2,"title":{"text":"EMX1","offset":17.4},
    "layer":[
     {"data":{"name":"venn"},"transform":[{"filter":"datum.target == 'EMX1'"}],
      "mark":{"type":"point","filled":true,"opacity":1,"stroke":"#8a8a8a","strokeWidth":0.8},
      "encoding":{"x":{"field":"set","type":"nominal","scale":{"type":"point","domain":["Monoplex","Multiplex"],"range":[67.2,111.1],"padding":0},"axis":null},
       "size":{"field":"n","type":"quantitative","scale":{"type":"linear","domain":[0,13],"range":[0,13225]},"legend":null},
       "color":{"field":"set","type":"nominal"}}},
     {"data":{"name":"venn"},"transform":[{"filter":"datum.target == 'EMX1' && datum.set == 'Monoplex'"}],
      "mark":{"type":"point","filled":true,"opacity":1,"strokeWidth":0,"blend":"saturation"},
      "encoding":{"x":{"field":"set","type":"nominal","scale":{"type":"point","domain":["Monoplex","Multiplex"],"range":[67.2,111.1],"padding":0},"axis":null},
       "size":{"field":"n","type":"quantitative","scale":{"type":"linear","domain":[0,13],"range":[0,13225]},"legend":null},
       "color":{"field":"set","type":"nominal"}}},
     {"data":{"name":"vennlab"},"transform":[{"filter":"datum.target == 'EMX1'"}],
      "mark":{"type":"text","fontSize":18},
      "encoding":{"x":{"field":"region","type":"nominal","scale":{"type":"point","domain":["mono","both","multi"],"range":[36.4,144.7],"padding":0},"axis":null},"text":{"field":"n"}}}
    ],
    "resolve":{"scale":{"x":"independent"}}},
   {"width":175.6,"height":118.2,"title":{"text":"HBG","offset":17.4},
    "layer":[
     {"data":{"name":"venn"},"transform":[{"filter":"datum.target == 'HBG'"}],
      "mark":{"type":"point","filled":true,"opacity":1,"stroke":"#8a8a8a","strokeWidth":0.8},
      "encoding":{"x":{"field":"set","type":"nominal","scale":{"type":"point","domain":["Monoplex","Multiplex"],"range":[86.9,114.8],"padding":0},"axis":null},
       "size":{"field":"n","type":"quantitative","scale":{"type":"linear","domain":[0,4],"range":[0,13924]},"legend":null},
       "color":{"field":"set","type":"nominal"}}},
     {"data":{"name":"vennlab"},"transform":[{"filter":"datum.target == 'HBG'"}],
      "mark":{"type":"text","fontSize":18},
      "encoding":{"x":{"field":"region","type":"nominal","scale":{"type":"point","domain":["mono","both"],"range":[60.3,113.6],"padding":0},"axis":null},"text":{"field":"n"}}}
    ],
    "resolve":{"scale":{"x":"independent"}}},
   {"width":133,"height":118.2,"title":{"text":"RNF2","offset":17.4,"dx":7.3},
    "layer":[
     {"data":{"name":"venn"},"transform":[{"filter":"datum.target == 'RNF2'"}],
      "mark":{"type":"point","filled":true,"opacity":1,"stroke":"#8a8a8a","strokeWidth":0.8},
      "encoding":{"x":{"field":"set","type":"nominal","scale":{"type":"point","domain":["Monoplex","Multiplex"],"range":[74,92],"padding":0},"axis":null},
       "size":{"field":"n","type":"quantitative","scale":{"type":"linear","domain":[0,4],"range":[0,12544]},"legend":null},
       "color":{"field":"set","type":"nominal"}}},
     {"data":{"name":"vennlab"},"transform":[{"filter":"datum.target == 'RNF2'"}],
      "mark":{"type":"text","fontSize":18},
      "encoding":{"x":{"field":"region","type":"nominal","scale":{"type":"point","domain":["mono","both"],"range":[34.7,89.7],"padding":0},"axis":null},"text":{"field":"n"}}}
    ],
    "resolve":{"scale":{"x":"independent"}}}
  ]
 }
]
}
